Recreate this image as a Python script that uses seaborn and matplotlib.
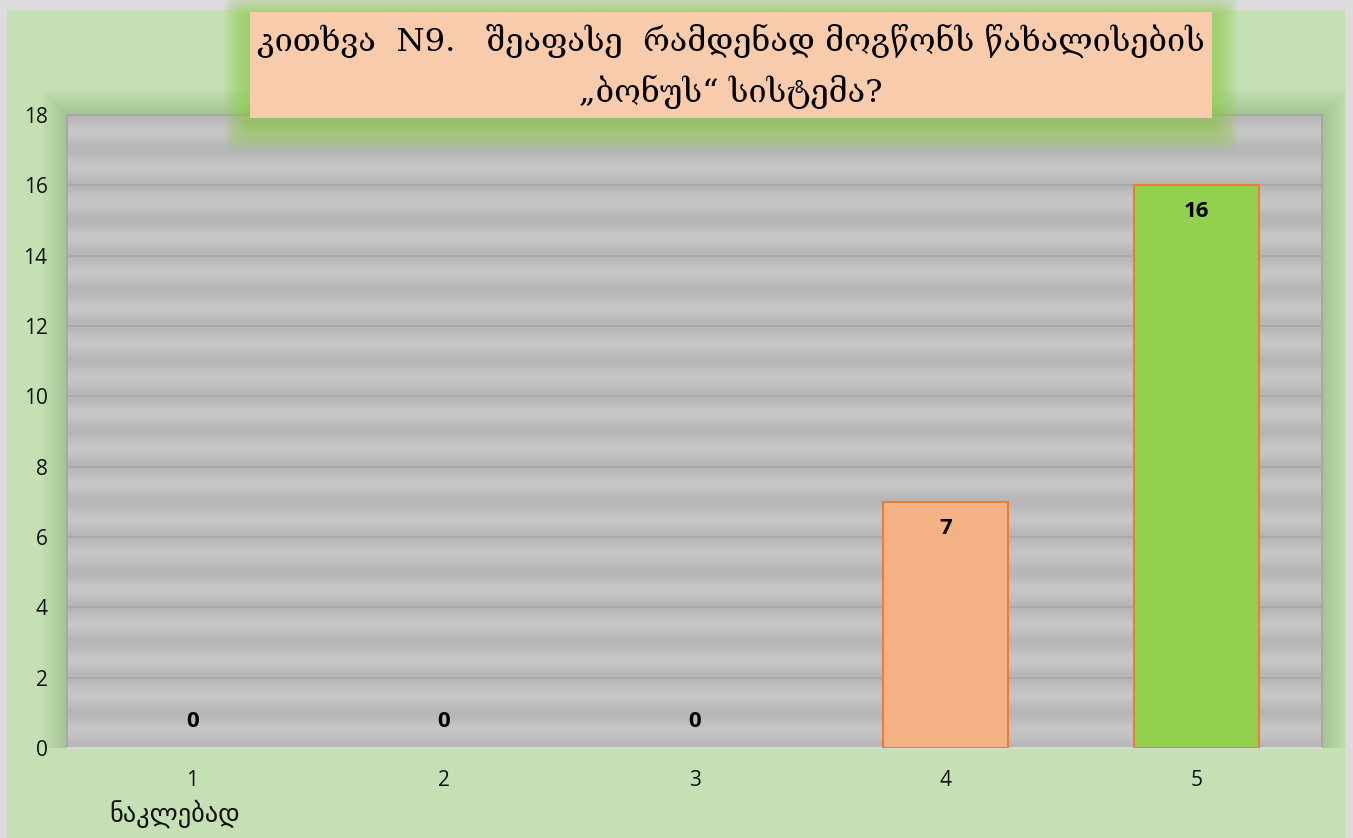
import numpy as np
import pandas as pd
import matplotlib
matplotlib.use("Agg")
import matplotlib.pyplot as plt
from matplotlib.patches import FancyBboxPatch, Rectangle
import seaborn as sns

# Survey answers: score 1..5 and number of respondents
categories = ["1\nნაკლებად", "2", "3", "4", "5"]
counts = [0, 0, 0, 7, 16]
bar_colors = ["#f4b183", "#f4b183", "#f4b183", "#f4b183", "#92d050"]
y_ticks = [0, 2, 4, 6, 8, 10, 12, 14, 16, 18]
title_text = "კითხვა  N9.   შეაფასე  რამდენად მოგწონს წახალისების\n„ბონუს“ სისტემა?"

sns.set_theme(style="white")
plt.rcParams["font.family"] = ["Open Sans", "DejaVu Sans"]

W, H = 1353, 838
fig = plt.figure(figsize=(W / 100, H / 100), dpi=100)
fig.patch.set_facecolor("#dcdcdc")

# page background
fig.add_artist(Rectangle((7 / W, 0), (1345 - 7) / W, 1 - 10 / H,
                         transform=fig.transFigure, facecolor="#c5e0b4",
                         edgecolor="none", zorder=0))

ax = fig.add_axes([67 / W, 1 - 748 / H, (1322 - 67) / W, (748 - 115) / H])
ax.set_zorder(2)

# soft shadow around the plot area
for i in range(14, 0, -1):
    fig.add_artist(Rectangle(((67 - i * 1.8) / W, (1 - 748 / H)),
                             (1322 - 67 + i * 3.6) / W, (748 - 115 + i * 1.8) / H,
                             transform=fig.transFigure, facecolor="#7f9f6e",
                             edgecolor="none", alpha=0.03, zorder=0.5))

df = pd.DataFrame({"score": categories, "count": counts})
sns.barplot(data=df, x="score", y="count", hue="score", palette=bar_colors,
            legend=False, width=0.5, edgecolor="#ed7d31", linewidth=1.5,
            saturation=1, ax=ax, zorder=3)
for p in ax.patches:
    if p.get_height() == 0:
        p.set_edgecolor("none")

ax.set_facecolor("#c2c2c2")

# banded grey fill of the plot area
yy = np.linspace(0, 1, 800)
band = 0.5 + 0.5 * np.cos(2 * np.pi * yy * 18)
img = np.repeat(band[:, None], 2, axis=1)
ax.imshow(img, extent=[0, 1, 0, 1], transform=ax.transAxes, origin="lower",
          cmap=matplotlib.colors.LinearSegmentedColormap.from_list("g", ["#c6c6c6", "#b7b7b7"]),
          aspect="auto", zorder=0, interpolation="bilinear")
ax.set_xlim(-0.5, 4.5)
ax.set_ylim(0, 18)
ax.set_yticks(y_ticks)

ax.yaxis.grid(True, color="#aaa7a9", linewidth=1.3, zorder=1)
ax.set_axisbelow(True)
for s in ax.spines.values():
    s.set_color("#a6a6a6")
    s.set_linewidth(1.3)
ax.spines["bottom"].set_color("#d9d9d9")

ax.tick_params(axis="y", length=0, pad=14, labelsize=15, labelcolor="#111111")
ax.tick_params(axis="x", length=0, pad=16, labelsize=15, labelcolor="#111111")
ax.set_xlabel("")
ax.set_ylabel("")

# first line of each category as tick label, second line as its own text
ax.set_xticks(range(len(categories)))
ax.set_xticklabels([c.split("\n")[0] for c in categories])
for i, c in enumerate(categories):
    if "\n" in c:
        ax.annotate(c.split("\n")[1], (i, 0), xycoords=("data", "axes fraction"),
                    xytext=(-13, -47), textcoords="offset points",
                    ha="center", va="center", fontsize=19,
                    family=["DejaVu Sans"], color="#111111")

for i, v in enumerate(counts):
    off = 19 if v == 0 else -19
    ax.annotate(f"{v}", (i, v), xytext=(0, off), textcoords="offset points",
                ha="center", va="center", fontsize=16, fontweight="bold",
                color="black", zorder=5)

# title box with green glow
bx0, bx1 = 250 / W, 1212 / W
by0, by1 = 1 - 118 / H, 1 - 12 / H
for i in range(20, 0, -1):
    g = i * 1.3
    fig.add_artist(FancyBboxPatch((bx0 - g / W, by0 - (g + 8) / H),
                                  bx1 - bx0 + 2 * g / W, by1 - by0 + (2 * g) / H,
                                  boxstyle="round,pad=0,rounding_size=0.01",
                                  transform=fig.transFigure, facecolor="#92d050",
                                  edgecolor="none", alpha=0.06, zorder=6))
fig.add_artist(Rectangle((bx0, by0), bx1 - bx0, by1 - by0, transform=fig.transFigure,
                         facecolor="#f8cbad", edgecolor="none", zorder=7))
fig.text((bx0 + bx1) / 2, (by0 + by1) / 2 - 1 / H, title_text, ha="center", va="center",
         fontsize=23.3, family=["DejaVu Serif", "DejaVu Sans"],
         linespacing=1.62, zorder=8, color="black")

fig.savefig("out.png", dpi=100, facecolor=fig.get_facecolor())
